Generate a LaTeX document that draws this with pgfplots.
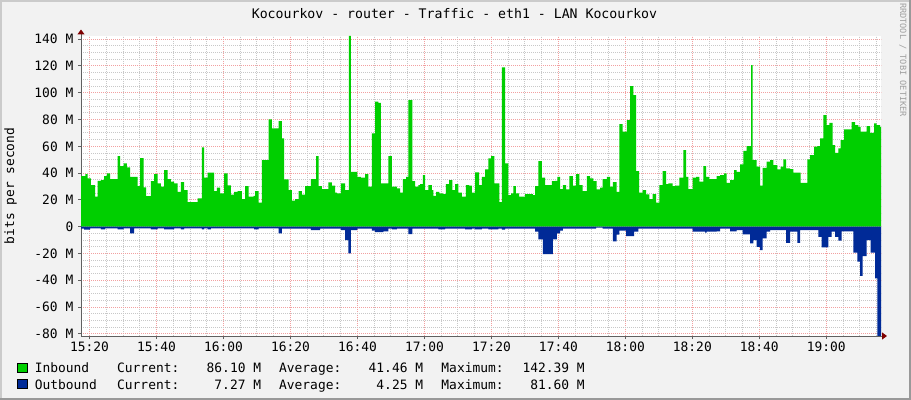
\documentclass[border=0pt]{standalone}
\usepackage{fontspec}
\setmainfont{DejaVu Sans Mono}
\usepackage{pgfplots}
\pgfplotsset{compat=1.18}
\usetikzlibrary{arrows.meta}

\definecolor{inbound}{HTML}{00CF00}
\definecolor{outbound}{HTML}{002A97}
\definecolor{mgrid}{HTML}{F2A0A0}
\definecolor{sgrid}{HTML}{C8C8C8}
\definecolor{back}{HTML}{F2F2F2}
\definecolor{shadea}{HTML}{CBCBCB}
\definecolor{shadeb}{HTML}{999999}
\definecolor{axisgrey}{HTML}{606060}
\definecolor{arrowred}{HTML}{7F0000}
\definecolor{wmgrey}{HTML}{A0A0A0}

\newcommand{\lbl}{\fontsize{12.9bp}{15bp}\selectfont}
% one legend line: name, current, average, maximum
\newcommand{\legrow}[4]{\makebox[82.4bp][l]{#1}\rlap{Current:}\makebox[143.9bp][r]{#2}\hspace{18.1bp}\rlap{Average:}\makebox[143.9bp][r]{#3}\hspace{18.4bp}\rlap{Maximum:}\makebox[143.3bp][r]{#4}}

\begin{document}
\begin{tikzpicture}
% canvas with rrdtool style frame
\fill[back] (0,0) rectangle (911bp,400bp);
\fill[shadea] (0,398bp) rectangle (911bp,400bp);
\fill[shadea] (0,0) rectangle (2bp,400bp);
\fill[shadeb] (0,0) rectangle (911bp,2bp);
\fill[shadeb] (909bp,0) rectangle (911bp,400bp);
\node[rotate=-90, text=wmgrey, font=\fontsize{8.6bp}{10bp}\selectfont] at (903bp,340bp) {RRDTOOL / TOBI OETIKER};

\begin{axis}[
    at={(81bp,64bp)}, anchor=south west,
    scale only axis,
    width=800bp, height=300bp,
    xmin=17.45, xmax=256.33,
    ymin=-81.6, ymax=142.39,
    axis background/.style={fill=white},
    axis lines*=left,
    axis line style={axisgrey, line width=1bp},
    x axis line style={-{Triangle[width=7bp,length=5bp,color=arrowred]}, shorten >=-6bp},
    y axis line style={-{Triangle[width=7bp,length=5bp,color=arrowred]}, shorten >=-6.5bp},
    xtick={20,40,...,240},
    xticklabels={15:20,15:40,16:00,16:20,16:40,17:00,17:20,17:40,18:00,18:20,18:40,19:00},
    minor xtick={25,30,35,45,50,55,65,70,75,85,90,95,105,110,115,125,130,135,145,150,155,165,170,175,185,190,195,205,210,215,225,230,235,245,250,255},
    ytick={-80,-60,...,140},
    yticklabels={-80 M,-60 M,-40 M,-20 M,0,20 M,40 M,60 M,80 M,100 M,120 M,140 M},
    minor ytick={-75,-70,-65,-55,-50,-45,-35,-30,-25,-15,-10,-5,5,10,15,25,30,35,45,50,55,65,70,75,85,90,95,105,110,115,125,130,135},
    grid=both,
    major grid style={mgrid, line width=1bp, dash pattern=on 1bp off 1bp},
    minor grid style={sgrid, line width=1bp, dash pattern=on 1bp off 1bp},
    tick align=outside,
    xtick pos=bottom, ytick pos=left,
    major tick length=3bp, minor tick length=0pt,
    tick style={axisgrey, line width=1bp},
    ticklabel style={font=\lbl},
    xticklabel style={inner sep=2.5bp},
    yticklabel style={inner sep=4.5bp},
    ylabel={bits per second},
    every axis y label/.style={at={(rel axis cs:0,0.5)}, xshift=-70.5bp, rotate=90, anchor=center, font=\lbl},
    title={Kocourkov - router - Traffic - eth1 - LAN Kocourkov},
    title style={at={(rel axis cs:0.5,1)}, anchor=center, xshift=-26.5bp, yshift=16bp, font=\fontsize{13.2bp}{15bp}\selectfont},
    legend style={at={(0,0)}, anchor=north west, xshift=-63.7bp, yshift=-23.85bp,
        draw=none, fill=none, inner sep=0pt, outer sep=0pt, row sep=0pt, column sep=0pt,
        nodes={inner sep=0pt, text height=12.85bp, text depth=3.45bp, font=\lbl}},
    legend cell align=left,
]

\addplot[const plot mark left, fill=inbound, draw=none,
    legend image code/.code={\draw[black, line width=1bp, fill=inbound] (0bp,-4.6bp) rectangle (9.5bp,4.6bp); \path (17bp,0);}]
coordinates {
(17.45,37.8)(18.72,39.3)(19.41,36.1)(20.41,31.1)(21.70,22.4)(22.40,34.3)(23.39,34.8)(24.39,37.8)(25.18,39.8)(26.18,35.6)
(28.37,52.7)(29.16,45.3)(30.16,47.3)(31.16,44.3)(32.15,37.3)(34.34,30.3)(35.13,51.2)(36.13,29.4)(36.92,22.9)(38.32,34.1)
(39.31,39.3)(40.31,32.3)(41.30,29.9)(42.30,42.3)(43.29,35.6)(44.29,33.6)(45.28,32.3)(46.28,26.1)(47.27,33.3)(48.27,27.4)
(49.26,18.4)(52.25,21.1)(53.54,59.2)(54.24,36.6)(55.23,40.3)(57.22,26.6)(58.02,29.1)(59.02,24.9)(60.21,39.8)(61.20,30.8)
(62.20,23.9)(63.19,26.1)(64.19,26.6)
(65.48,20.6)(66.48,30.3)(67.47,22.4)(68.96,23.1)(69.46,26.6)(70.46,17.9)(71.45,49.8)(73.44,80.1)(74.44,73.4)(76.43,78.9)
(77.42,65.9)(78.12,35.3)(79.41,27.4)(80.41,19.4)(81.40,20.6)(82.40,26.6)(83.39,23.9)(84.39,30.3)(86.08,35.6)(87.67,52.7)
(88.37,30.3)(89.36,28.1)(91.35,33.1)(92.35,30.6)(93.34,25.4)(93.84,24.9)(95.03,32.3)(96.33,27.4)(97.42,142.39)(98.02,41.0)
(100.01,37.3)(101.0,36.6)(102.3,39.3)(103.29,29.9)(104.29,69.7)(105.28,93.3)(106.28,92.5)(106.98,32.3)(109.26,52.7)(110.26,29.9)
(111.75,28.6)
(112.75,25.4)(113.54,35.6)(114.54,37.3)(115.23,94.5)(116.43,34.1)(117.22,29.9)(118.22,31.1)(118.72,31.8)(119.51,38.6)(120.21,27.4)
(121.2,31.1)(122.2,27.4)(122.7,23.1)(123.49,26.1)(124.49,24.9)(125.48,24.4)(126.38,31.8)(127.37,34.8)(128.37,27.4)(129.16,31.8)
(130.16,25.4)(131.15,22.4)(132.35,31.1)(133.34,30.6)(134.14,25.4)(135.13,40.5)(136.33,31.1)(137.12,37.3)(138.12,42.8)(139.12,51.0)
(139.91,52.7)(140.91,32.3)(142.4,18.4)(143.09,118.9)(144.09,47.3)(145.08,23.6)(145.88,24.9)(146.58,30.3)(147.27,24.9)(148.27,22.4)
(150.06,24.4)(152.35,23.6)(153.04,30.3)(154.04,49.0)(155.03,36.6)(156.03,31.1)(158.02,34.1)(159.01,34.3)(159.71,37.3)
(160.51,28.1)(161.3,31.1)(162.3,27.9)(163.29,37.8)(164.29,30.6)(165.28,39.3)(166.28,31.1)(167.27,26.6)(168.47,37.8)(169.46,36.1)
(170.46,34.1)(171.45,27.9)(172.45,29.1)(173.24,35.6)(174.44,37.3)(175.43,29.9)(176.23,33.3)(177.42,26.1)(178.22,76.6)(179.21,70.9)
(180.41,79.6)(181.4,105.0)(182.4,98.3)(183.19,41.5)(184.09,25.4)(185.18,27.4)(186.18,24.1)(187.17,20.6)(188.17,24.4)(189.16,17.9)
(190.16,31.1)(191.15,41.5)(192.15,31.8)(192.84,32.3)(194.14,30.3)(194.84,30.6)(196.13,36.6)(197.32,57.2)(198.12,37.3)(198.81,28.1)
(200.11,36.6)(201.1,37.3)(202.1,33.6)(203.29,45.3)(204.09,37.3)(205.08,35.6)(207.27,37.8)
(208.27,38.6)(209.46,39.8)(210.26,32.8)(211.25,34.8)(212.45,42.3)(213.24,41.0)(214.24,46.5)(215.23,56.7)(216.23,60.2)(217.52,120.6)
(218.02,49.8)(219.22,44.8)(220.21,30.6)(221.01,44.0)(222.2,48.5)(223.2,49.8)(224.19,46.0)(225.38,42.8)(226.38,44.8)(227.17,50.2)
(227.97,43.5)(229.16,43.0)(230.16,40.3)(232.35,32.8)(234.34,50.2)(235.14,53.5)(236.33,59.7)(237.32,60.2)(238.12,65.9)(239.11,83.3)
(240.11,75.9)(240.91,77.6)(241.9,60.9)(242.6,55.2)(243.59,58.5)(244.29,64.7)(245.28,72.6)(247.57,78.1)(248.57,75.9)(249.56,74.6)
(250.26,70.9)(252.05,75.1)(253.05,70.1)(254.24,77.1)(255.04,75.9)(256.03,74.6)(256.33,74.6)
} \closedcycle;
\addlegendentry{\legrow{Inbound}{86.10 M}{41.46 M}{142.39 M}}

\addplot[const plot mark left, fill=outbound, draw=none,
    legend image code/.code={\draw[black, line width=1bp, fill=outbound] (0bp,-4.6bp) rectangle (9.5bp,4.6bp); \path (17bp,0);}]
coordinates {
(17.45,-1.5)(18.42,-2.2)(20.21,-1.3)(23.39,-2)(24.69,-1.3)(28.37,-2)(30.16,-1.3)(32.15,-5)(33.34,-1.3)(38.32,-2)
(40.31,-1.3)(42.3,-2)(45.28,-1.3)(47.27,-2)(48.27,-1.3)(53.54,-2)(54.24,-1.3)(55.23,-2)(56.23,-1.3)
(69.16,-2)(70.46,-1.3)(76.43,-5)(77.42,-1.5)(86.08,-2.5)(88.87,-1.5)(95.03,-2.5)(96.33,-10)(97.32,-20)(98.02,-2.5)
(100.01,-1.5)(104.29,-3)(105.28,-4)(107.77,-3.5)(109.26,-1.5)(110.26,-2)(111.75,-1.5)
(115.23,-5.5)(116.43,-1.5)(124.19,-2)(126.18,-1.5)(132.15,-2)(134.14,-1.5)(135.13,-2)(137.12,-1.5)(139.12,-2)(142.1,-1.5)
(143.09,-2.2)(144.09,-1.5)(153.04,-3.7)(154.04,-9.5)(155.33,-20.4)(158.32,-9.5)(159.51,-5)
(160.51,-3)(161.3,-1.5)(171.25,-0.6)(173.24,-1.5)(176.23,-11)(177.42,-6)(178.22,-3)(180.21,-7)(182.6,-3.7)(183.89,-1.5)
(200.11,-3.7)(203.79,-4.5)(204.29,-3.7)(207.27,-3.5)
(208.27,-1.5)(211.25,-3.5)(213.24,-2.5)(215.03,-5.7)(217.22,-12.4)(218.22,-10)(219.22,-15)(220.21,-17.4)(221.01,-8.7)(222.2,-3.7)
(223.2,-2.5)(227.97,-12)(229.16,-3.7)(231.35,-12)(232.15,-2.5)(237.62,-7.5)(238.62,-15.4)(240.61,-7.5)(241.6,-3.7)(242.6,-7.5)
(243.59,-10.4)(244.59,-3.5)(248.07,-19.4)(249.26,-26.1)(250.06,-36.8)(250.86,-21.9)(252.05,-10)(253.24,-19.4)(254.54,-38.6)(255.23,-81.6)
(256.33,-81.6)
} \closedcycle;
\addlegendentry{\legrow{Outbound}{7.27 M}{4.25 M}{81.60 M}}
\end{axis}
\pgfresetboundingbox
\path[use as bounding box] (0,0) rectangle (911bp,400bp);
\end{tikzpicture}
\end{document}
